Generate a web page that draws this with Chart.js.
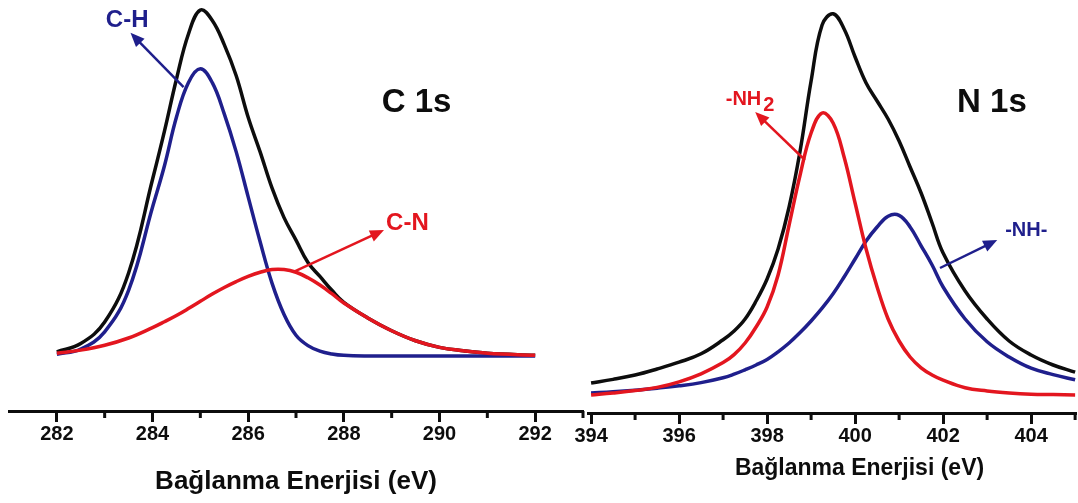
<!DOCTYPE html>
<html lang="tr">
<head>
<meta charset="utf-8">
<title>XPS C 1s / N 1s</title>
<script src="https://cdn.jsdelivr.net/npm/chart.js@4.4.1/dist/chart.umd.min.js"></script>
<style>
  html, body { margin: 0; padding: 0; background: #fff; }
  body { width: 1078px; height: 503px; position: relative; overflow: hidden; }
  canvas { position: absolute; top: 0; }
  #c1sChart { left: 0; }
  #n1sChart { left: 550px; }
</style>
</head>
<body>
<canvas id="c1sChart" width="585" height="503"></canvas>
<canvas id="n1sChart" width="528" height="503"></canvas>
<script>
// C 1s region: envelope and the two fitted components (intensity in a.u.)
const c1sEnergy   = [282, 282.5, 283, 283.5, 284, 284.25, 284.5, 284.75, 285, 285.25, 285.5, 285.75, 286, 286.25, 286.5, 286.75, 287, 287.25, 287.5, 287.75, 288, 288.5, 289, 289.5, 290, 290.5, 291, 292];
const c1sEnvelope = [1.2, 3.6, 9.8, 24, 51, 65, 80, 93, 100, 97, 90, 81, 69, 59, 48.5, 40, 33.5, 27, 23, 19, 15.5, 11, 7.3, 4.4, 2.5, 1.5, 0.8, 0.2];
const c1sCH       = [0.5, 2, 7, 19, 43, 55, 69, 79, 83, 79, 70, 59, 46, 33, 21, 12, 6, 3, 1.4, 0.6, 0.2, 0, 0, 0, 0, 0, 0, 0];
const c1sCN       = [0.8, 1.7, 3.1, 5.2, 8.2, 9.9, 11.7, 13.7, 15.8, 17.9, 19.8, 21.5, 23, 24.2, 25, 25, 24.2, 22.6, 20.5, 18, 15.3, 11, 7.3, 4.4, 2.5, 1.5, 0.8, 0.2];
const c1sMajorTicks = [282, 284, 286, 288, 290, 292];
const c1sMinorTicks = [283, 285, 287, 289, 291, 293];

// N 1s region
const n1sEnergy   = [394, 394.5, 395, 395.5, 396, 396.5, 397, 397.25, 397.5, 397.75, 398, 398.25, 398.5, 398.75, 399, 399.25, 399.5, 399.75, 400, 400.25, 400.5, 400.75, 401, 401.25, 401.5, 401.75, 402, 402.5, 403, 403.5, 404, 404.5, 405];
const n1sEnvelope = [7.5, 8.4, 9.5, 11, 12.7, 14.8, 18.3, 20.5, 23.5, 28, 33.5, 41, 51.5, 65.5, 83, 97, 99.8, 96, 89, 82.5, 78, 73.5, 68, 61.5, 55, 47.5, 40, 30.5, 23.5, 18, 14.5, 12, 10.2];
const n1sNH2      = [4.5, 5, 5.6, 6.4, 7.8, 9.8, 12.6, 14.6, 17.5, 21.5, 26.5, 34.5, 47, 59.5, 70, 75, 72.5, 64, 52.5, 41, 31.5, 23.5, 18, 14, 11.3, 9.5, 8.2, 6.3, 5.5, 5, 4.7, 4.6, 4.5];
const n1sNH       = [5, 5.3, 5.7, 6.2, 6.8, 7.6, 8.8, 9.7, 10.8, 12, 13.4, 15.3, 17.5, 20.1, 23, 26.2, 29.8, 34, 38.5, 43, 46.5, 49.2, 49.4, 46.5, 41.8, 37, 31.5, 23.5, 17.8, 14, 11.2, 9.6, 8.3];
const n1sMajorTicks = [394, 396, 398, 400, 402, 404];
const n1sMinorTicks = [395, 397, 399, 401, 403, 405];

const BLACK = '#0d0d0d';
const NAVY = '#1f1f8c';
const RED = '#e3161f';
const FONT = '"Liberation Sans", Arial, sans-serif';

const toPoints = (xs, ys) => xs.map((x, i) => ({ x: x, y: ys[i] }));

function curve(label, xs, ys, color) {
  return {
    label: label,
    data: toPoints(xs, ys),
    borderColor: color,
    borderWidth: 3.5,
    pointRadius: 0,
    fill: false,
    tension: 0.4
  };
}

// minor ticks, peak labels with arrows and the axis title
function decorPlugin(cfg) {
  return {
    id: 'decor',
    afterDraw(chart) {
      const { ctx, chartArea } = chart;
      const x = chart.scales.x, y = chart.scales.y;
      ctx.save();

      ctx.strokeStyle = BLACK;
      ctx.lineWidth = 3;
      cfg.minor.forEach(v => {
        const px = x.getPixelForValue(v);
        ctx.beginPath();
        ctx.moveTo(px, chartArea.bottom);
        ctx.lineTo(px, chartArea.bottom + 7);
        ctx.stroke();
      });

      cfg.arrows.forEach(a => {
        const x1 = x.getPixelForValue(a.from[0]), y1 = y.getPixelForValue(a.from[1]);
        const x2 = x.getPixelForValue(a.to[0]), y2 = y.getPixelForValue(a.to[1]);
        const ang = Math.atan2(y2 - y1, x2 - x1);
        const c = Math.cos(ang), s = Math.sin(ang);
        ctx.strokeStyle = a.color;
        ctx.fillStyle = a.color;
        ctx.lineWidth = 2.5;
        ctx.beginPath();
        ctx.moveTo(x1, y1);
        ctx.lineTo(x2 - 8 * c, y2 - 8 * s);
        ctx.stroke();
        ctx.beginPath();
        ctx.moveTo(x2, y2);
        ctx.lineTo(x2 - 14 * c + 6 * s, y2 - 14 * s - 6 * c);
        ctx.lineTo(x2 - 14 * c - 6 * s, y2 - 14 * s + 6 * c);
        ctx.closePath();
        ctx.fill();
      });

      ctx.textBaseline = 'middle';
      cfg.labels.forEach(l => {
        ctx.font = `bold ${l.size}px ${FONT}`;
        ctx.fillStyle = l.color;
        const px = x.getPixelForValue(l.at[0]), py = y.getPixelForValue(l.at[1]);
        if (l.sub) {
          const w1 = ctx.measureText(l.text).width;
          const w = w1 + ctx.measureText(l.sub).width;
          ctx.textAlign = 'left';
          ctx.fillText(l.text, px - w / 2, py);
          ctx.fillText(l.sub, px - w / 2 + w1 + 2, py + 6);
        } else {
          ctx.textAlign = 'center';
          ctx.fillText(l.text, px, py);
        }
      });

      ctx.font = `bold ${cfg.title.size}px ${FONT}`;
      ctx.fillStyle = BLACK;
      ctx.textAlign = 'center';
      ctx.fillText(cfg.title.text, x.getPixelForValue(cfg.title.at), chartArea.bottom + cfg.title.offset);
      ctx.restore();
    }
  };
}

function makePanel(canvasId, p) {
  const ctx = document.getElementById(canvasId).getContext('2d');
  return new Chart(ctx, {
    type: 'line',
    data: { datasets: p.datasets },
    options: {
      responsive: false,
      animation: false,
      events: [],
      layout: { padding: p.padding },
      plugins: { legend: { display: false }, tooltip: { enabled: false } },
      scales: {
        x: {
          type: 'linear',
          min: p.xMin,
          max: p.xMax,
          afterBuildTicks: axis => { axis.ticks = p.majorTicks.map(v => ({ value: v })); },
          border: { display: true, color: BLACK, width: 3 },
          grid: { display: true, drawOnChartArea: false, drawTicks: true, tickLength: 11, tickWidth: 3, tickColor: BLACK },
          ticks: { color: BLACK, padding: 0, maxRotation: 0, font: { family: FONT, size: 20, weight: 'bold' } }
        },
        y: { display: false, min: p.yMin, max: p.yMax }
      }
    },
    plugins: [decorPlugin(p.decor)]
  });
}

document.addEventListener('DOMContentLoaded', () => {
  makePanel('c1sChart', {
    padding: { left: 9, right: 2, top: 0, bottom: 57 },
    xMin: 281, xMax: 293,
    yMin: -15.9, yMax: 102.9,
    majorTicks: c1sMajorTicks,
    datasets: [
      curve('C-N', c1sEnergy, c1sCN, RED),
      curve('C-H', c1sEnergy, c1sCH, NAVY),
      curve('C 1s', c1sEnergy, c1sEnvelope, BLACK)
    ],
    decor: {
      minor: c1sMinorTicks,
      arrows: [
        { from: [284.65, 77.7], to: [283.54, 93.4], color: NAVY },
        { from: [286.95, 24.3], to: [288.84, 36.4], color: RED }
      ],
      labels: [
        { text: 'C-H', at: [283.47, 97.1], size: 24, color: NAVY },
        { text: 'C-N', at: [289.33, 38.4], size: 24, color: RED },
        { text: 'C 1s', at: [289.52, 73.1], size: 33, color: BLACK }
      ],
      title: { text: 'Bağlanma Enerjisi (eV)', at: 287, offset: 71, size: 26 }
    }
  });

  makePanel('n1sChart', {
    padding: { left: 38, right: 2, top: 0, bottom: 55 },
    xMin: 393.93, xMax: 405.02,
    yMin: 0, yMax: 103.25,
    majorTicks: n1sMajorTicks,
    datasets: [
      curve('-NH2', n1sEnergy, n1sNH2, RED),
      curve('-NH-', n1sEnergy, n1sNH, NAVY),
      curve('N 1s', n1sEnergy, n1sEnvelope, BLACK)
    ],
    decor: {
      minor: n1sMinorTicks,
      arrows: [
        { from: [398.86, 63.25], to: [397.73, 75.25], color: RED },
        { from: [401.93, 36.25], to: [403.23, 43.25], color: NAVY }
      ],
      labels: [
        { text: '-NH', sub: '2', at: [397.59, 78.5], size: 20, color: RED },
        { text: '-NH-', at: [403.89, 45.75], size: 20, color: NAVY },
        { text: 'N 1s', at: [403.11, 77.5], size: 33, color: BLACK }
      ],
      title: { text: 'Bağlanma Enerjisi (eV)', at: 400.1, offset: 56, size: 23 }
    }
  });
});
</script>
</body>
</html>
